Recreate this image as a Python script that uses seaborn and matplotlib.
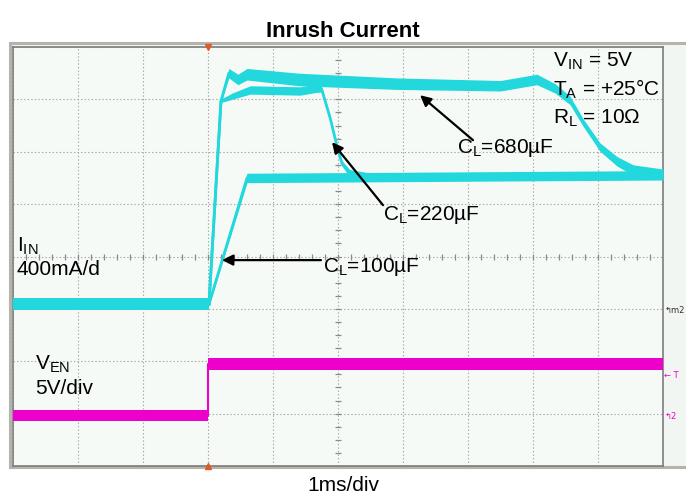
import matplotlib
matplotlib.use("Agg")
import matplotlib.pyplot as plt
import seaborn as sns
from matplotlib.patches import Rectangle

# ---- data (time in ms = divisions, amplitude in screen divisions) ----
base_t = [0.0, 3.015]
base_v = [3.09, 3.09]
base_hw = [0.115, 0.115]

cl100_t = [3.015, 3.6, 10.0]
cl100_v = [3.09, 5.50, 5.55]
cl100_hw = [0.03, 0.09, 0.09]

cl220_t = [3.015, 3.2, 3.37, 3.65, 4.42, 4.65, 4.75, 4.88, 4.98, 5.06, 5.18, 5.42]
cl220_v = [3.09, 6.97, 7.06, 7.18, 7.16, 7.21, 7.19, 6.64, 6.13, 5.78, 5.59, 5.52]
cl220_hw = [0.02, 0.03, 0.06, 0.08, 0.08, 0.08, 0.05, 0.04, 0.04, 0.05, 0.07, 0.09]

cl680_t = [3.015, 3.2, 3.32, 3.46, 3.6, 4.4, 5.9, 7.5, 8.06, 8.34, 8.57, 8.77, 9.03, 9.29, 9.54, 10.0]
cl680_v = [3.09, 6.97, 7.50, 7.38, 7.48, 7.38, 7.30, 7.26, 7.38, 7.21, 6.98, 6.56, 6.09, 5.82, 5.65, 5.57]
cl680_hw = [0.02, 0.04, 0.09, 0.10, 0.11, 0.12, 0.11, 0.10, 0.10, 0.09, 0.08, 0.07, 0.08, 0.09, 0.10, 0.10]

ven_t = [0.0, 3.0, 3.0, 10.0]
ven_v = [0.964, 0.964, 1.947, 1.947]
ven_hw = [0.10, 0.10, 0.115, 0.115]

trigger_time = 3.0

CYAN = "#22d8dc"
MAG = "#ee00cc"
ORANGE = "#e05a28"

sns.set_theme(style="white")
plt.rcParams["font.family"] = ["Liberation Sans", "DejaVu Sans"]
plt.rcParams["mathtext.fontset"] = "custom"
plt.rcParams["mathtext.rm"] = "Liberation Sans"
plt.rcParams["mathtext.it"] = "Liberation Sans:italic"
plt.rcParams["mathtext.bf"] = "Liberation Sans:bold"
plt.rcParams["text.color"] = "black"

W, H = 686, 498
fig = plt.figure(figsize=(W / 100, H / 100), dpi=100)
fig.patch.set_facecolor("white")

# outer scope frame (drawn underneath the axes)
frame = Rectangle((10 / W, (H - 467) / H), 700 / W, 424 / H,
                  transform=fig.transFigure, facecolor="#f2f6f3",
                  edgecolor="#b4b4ac", lw=2.2, zorder=-5)
fig.add_artist(frame)

ax = fig.add_axes([13 / W, (H - 466) / H, 650 / W, 419 / H])
ax.set_zorder(1)
ax.set_facecolor("#f5faf7")
ax.set_xlim(0, 10)
ax.set_ylim(0, 8)

# grid
ax.set_xticks(range(0, 11))
ax.set_yticks(range(0, 9))
ax.grid(True, color="#a4a4a4", linestyle=(0, (1.2, 2.0)), lw=0.8)
ax.tick_params(length=0, labelbottom=False, labelleft=False)
for s in ax.spines.values():
    s.set_color("#7c7c7c")
    s.set_linewidth(1.2)

# center graticule sub-ticks
sub_y = [k * 0.25 for k in range(1, 32)]
sub_x = [k * 0.2 for k in range(1, 50)]
ax.plot([5] * len(sub_y), sub_y, ls="none", marker="_", ms=5, mew=0.9, color="#8a8a8a")
ax.plot(sub_x, [4] * len(sub_x), ls="none", marker="|", ms=5, mew=0.9, color="#8a8a8a")

# traces
def trace(t, v, hw, color, lw):
    lo = [a - b for a, b in zip(v, hw)]
    hi = [a + b for a, b in zip(v, hw)]
    ax.fill_between(t, lo, hi, color=color, lw=0, zorder=3)
    sns.lineplot(x=t, y=v, ax=ax, color=color, lw=lw, sort=False,
                 estimator=None, zorder=3)

trace(ven_t, ven_v, ven_hw, MAG, 1.5)
trace(base_t, base_v, base_hw, CYAN, 2)
trace(cl100_t, cl100_v, cl100_hw, CYAN, 2)
trace(cl220_t, cl220_v, cl220_hw, CYAN, 2)
trace(cl680_t, cl680_v, cl680_hw, CYAN, 2)

# trigger markers
ax.plot([trigger_time], [8], marker="v", ms=5, color=ORANGE, clip_on=False, zorder=5)
ax.plot([trigger_time], [0], marker="^", ms=5, color=ORANGE, clip_on=False, zorder=5)

# labels
fs = 15
ax.text(8.31, 7.615, r"V$_{\mathrm{IN}}$ = 5V", fontsize=fs, va="baseline", zorder=6)
ax.text(8.31, 7.061, r"T$_{\mathrm{A}}$ = +25°C", fontsize=fs, va="baseline", zorder=6)
ax.text(8.31, 6.527, r"R$_{\mathrm{L}}$ = 10Ω", fontsize=fs, va="baseline", zorder=6)
ax.text(6.83, 5.973, r"C$_{\mathrm{L}}$=680µF", fontsize=fs, va="baseline", zorder=6)
ax.text(5.69, 4.695, r"C$_{\mathrm{L}}$=220µF", fontsize=fs, va="baseline", zorder=6)
ax.text(4.77, 3.702, r"C$_{\mathrm{L}}$=100µF", fontsize=fs, va="baseline", zorder=6)
ax.text(0.06, 4.084, r"I$_{\mathrm{IN}}$", fontsize=fs, va="baseline", zorder=6)
ax.text(0.06, 3.645, "400mA/d", fontsize=fs, va="baseline", zorder=6)
ax.text(0.34, 1.832, r"V$_{\mathrm{EN}}$", fontsize=fs, va="baseline", zorder=6)
ax.text(0.34, 1.374, "5V/div", fontsize=fs, va="baseline", zorder=6)

arrow = dict(arrowstyle="-|>", color="black", lw=1.6, mutation_scale=16,
             shrinkA=0, shrinkB=0)
ax.annotate("", xy=(6.262, 7.08), xytext=(7.077, 6.221), arrowprops=arrow, zorder=6)
ax.annotate("", xy=(4.908, 6.183), xytext=(5.692, 4.981), arrowprops=arrow, zorder=6)
ax.annotate("", xy=(3.215, 3.931), xytext=(4.738, 3.931), arrowprops=arrow, zorder=6)

# right-side channel markers
ax.text(10.02, 2.97, "↰m2", fontsize=6, color="#303030", va="center",
        ha="left", clip_on=False, family=["DejaVu Sans"])
ax.text(10.02, 1.72, "← T", fontsize=6, color=MAG, va="center",
        ha="left", clip_on=False, family=["DejaVu Sans"])
ax.text(10.02, 0.95, "↰2", fontsize=6, color=MAG, va="center",
        ha="left", clip_on=False, family=["DejaVu Sans"])

fig.text(0.5, (H - 37) / H, "Inrush Current", fontsize=16, fontweight="bold",
         ha="center", va="baseline")
fig.text(0.5, (H - 491) / H, "1ms/div", fontsize=15, ha="center", va="baseline")

fig.savefig("out.png", dpi=100)
